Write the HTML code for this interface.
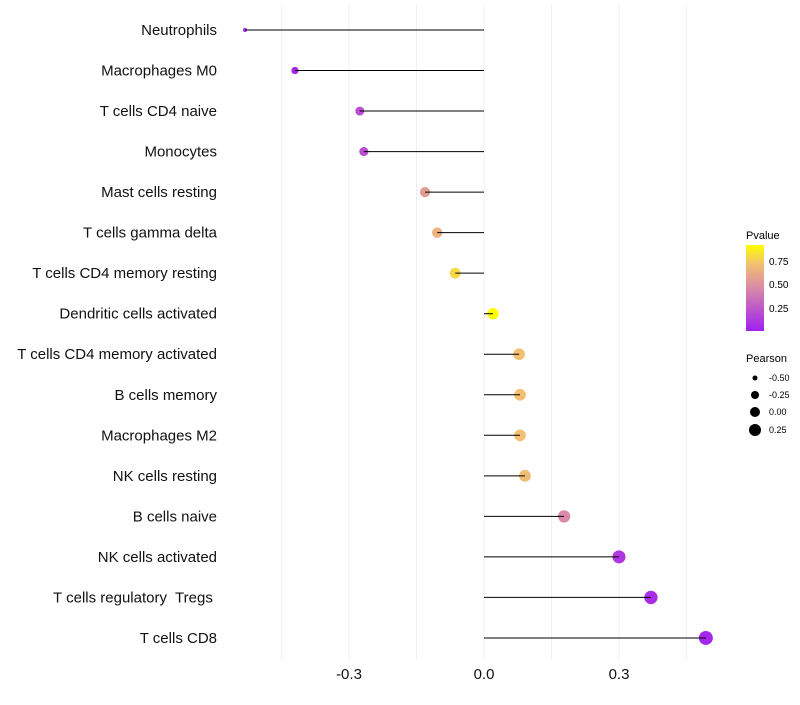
<!DOCTYPE html>
<html><head><meta charset="utf-8"><style>
body{margin:0;background:#fff;font-family:"Liberation Sans",sans-serif}
text{white-space:pre}
</style></head><body>
<svg id="chart" width="800" height="700" xmlns="http://www.w3.org/2000/svg">
<defs><linearGradient id="pg" x1="0" y1="1" x2="0" y2="0">
<stop offset="0" stop-color="#a020f0"/><stop offset="0.5" stop-color="#d98aa8"/><stop offset="0.78" stop-color="#f2c070"/><stop offset="1" stop-color="#ffff00"/></linearGradient></defs>
<g id="grid"></g><g id="marks"></g><g id="labels"></g><g id="xaxis"></g>
<g font-size="10" fill="#000">
<text x="746" y="239" font-size="11">Pvalue</text>
<rect x="746" y="245" width="18" height="86" fill="url(#pg)"/>
<text x="769" y="265">0.75</text><text x="769" y="288">0.50</text><text x="769" y="312">0.25</text>
</g>
<g font-size="9" fill="#000">
<text x="746" y="362" font-size="11">Pearson</text>
<circle cx="755" cy="378" r="2.5"/><text x="769" y="381">-0.50</text>
<circle cx="755" cy="395" r="4"/><text x="769" y="398">-0.25</text>
<circle cx="755" cy="412" r="5"/><text x="769" y="415">0.00</text>
<circle cx="755" cy="430" r="6"/><text x="769" y="433">0.25</text>
</g>
</svg>
<script>
const categories=["Neutrophils","Macrophages M0","T cells CD4 naive","Monocytes","Mast cells resting","T cells gamma delta","T cells CD4 memory resting","Dendritic cells activated","T cells CD4 memory activated","B cells memory","Macrophages M2","NK cells resting","B cells naive","NK cells activated","T cells regulatory  Tregs ","T cells CD8"];
const pearson=[-0.531,-0.42,-0.276,-0.267,-0.131,-0.104,-0.064,0.02,0.078,0.08,0.08,0.091,0.178,0.3,0.371,0.493];
const pvalues=[0.02,0.03,0.2,0.2,0.55,0.65,0.8,0.93,0.72,0.72,0.72,0.7,0.45,0.1,0.06,0.03];
const xTicks=[-0.3,0,0.3];
const xTickLabels=["-0.3","0.0","0.3"];
const minorTicks=[-0.45,-0.15,0.15,0.45];
const NS="http://www.w3.org/2000/svg";
const X=v=>484+v*450;
const Y=i=>30+i*40.53;
function mk(t,a,p){const e=document.createElementNS(NS,t);for(const k in a)e.setAttribute(k,a[k]);p.appendChild(e);return e;}
function lerp(a,b,t){return a.map((x,i)=>Math.round(x+(b[i]-x)*t));}
function col(p){const s=[[0,[160,32,240]],[0.45,[217,138,168]],[0.72,[242,192,112]],[0.93,[255,255,0]]];
 p=Math.max(0,Math.min(0.93,p));for(let i=0;i<s.length-1;i++){if(p<=s[i+1][0]){const c=lerp(s[i][1],s[i+1][1],(p-s[i][0])/(s[i+1][0]-s[i][0]));return `rgb(${c})`;}}return "rgb(255,255,0)";}
const grid=document.getElementById('grid'),marks=document.getElementById('marks'),labels=document.getElementById('labels'),xa=document.getElementById('xaxis');
minorTicks.concat(xTicks).forEach(v=>{const l=mk('line',{x1:X(v),x2:X(v),y1:5,y2:660,stroke:'#f0f0f0','stroke-width':1},grid);

});
xTicks.forEach((v,i)=>{const t=mk('text',{x:X(v),y:679,'text-anchor':'middle','font-size':15,fill:'#111'},xa);t.textContent=xTickLabels[i];

});
categories.forEach((c,i)=>{const y=Y(i);
 const t=mk('text',{x:217,y:y+5,'text-anchor':'end','font-size':15,fill:'#111'},labels);t.textContent=c;
 
 
 const r=2+Math.sqrt(Math.max(0,pearson[i]+0.531)/1.024)*5;
 const ci=mk('circle',{cx:X(pearson[i]),cy:y,r:r,fill:col(pvalues[i])},marks);
 
 
 const l=mk('line',{x1:X(0),x2:X(pearson[i]),y1:y,y2:y,stroke:'#000','stroke-width':1},marks);
 
 
});
</script>
</body></html>
